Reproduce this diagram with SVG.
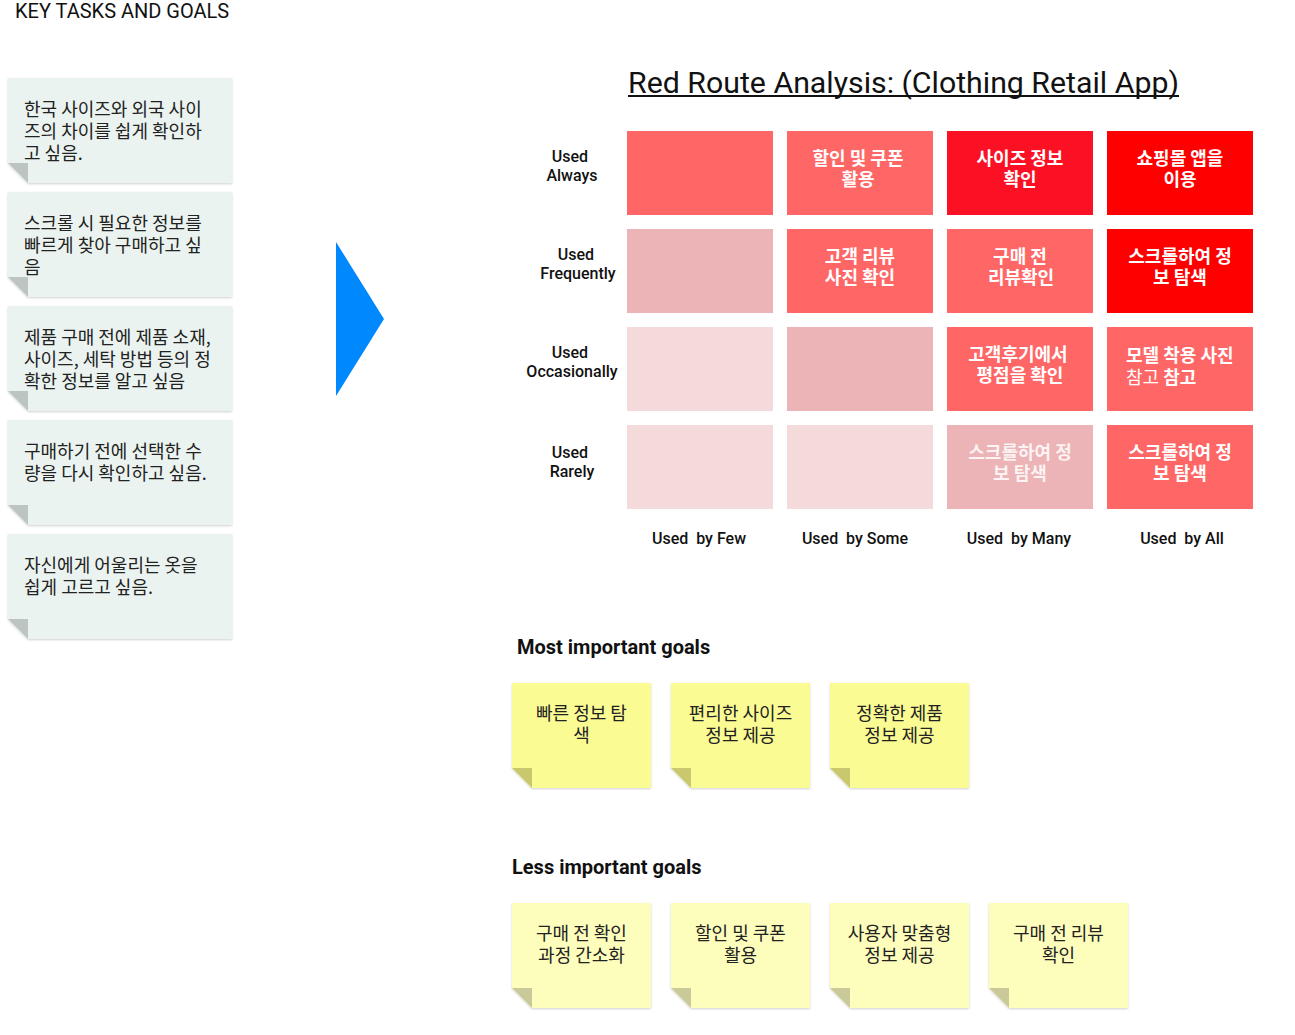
<svg xmlns="http://www.w3.org/2000/svg" width="1295" height="1035" viewBox="0 0 1295 1035">
<defs>
<filter id="sh" x="-10%" y="-10%" width="120%" height="120%">
<feDropShadow dx="0" dy="1" stdDeviation="1.2" flood-color="#000" flood-opacity="0.18"/>
</filter>
</defs>
<style>
.kr{font-family:"Noto Sans CJK KR","Noto Sans",sans-serif;}
.lat{font-family:Roboto,"Liberation Sans",sans-serif;}
.gn{fill:#ebf3f0;filter:url(#sh);}
.gf{fill:#bcc5c2;}
.yn{fill:#fbfb94;filter:url(#sh);}
.yf{fill:#c9c86f;}
.ln{fill:#fdfdbc;filter:url(#sh);}
.lf{fill:#c9c99a;}
.nt{font-size:18px;fill:#222;}
.ct{font-size:18px;font-weight:bold;fill:#fff;text-anchor:middle;}
.rl{font-size:16px;font-weight:500;fill:#111;text-anchor:middle;}
.cl{font-size:16px;font-weight:500;fill:#111;text-anchor:middle;white-space:pre;}
.hd{font-size:20px;font-weight:bold;fill:#111;}
.c1{fill:#ff6666;}.c2{fill:#fc1124;}.c3{fill:#ff0000;}.c4{fill:#ecb4b6;}.c5{fill:#f5dadb;}
</style>
<rect width="1295" height="1035" fill="#fff"/>
<text x="15" y="18" class="lat" font-size="20" fill="#111">KEY TASKS AND GOALS</text>

<g id="task1"><path class="gn" d="M8,78H232V183H28L8,163Z"/><path class="gf" d="M8,163H28V183Z"/>
<text class="kr nt"><tspan x="24" y="116">한국 사이즈와 외국 사이</tspan><tspan x="24" y="138">즈의 차이를 쉽게 확인하</tspan><tspan x="24" y="160">고 싶음.</tspan></text></g>
<g id="task2"><path class="gn" d="M8,192H232V297H28L8,277Z"/><path class="gf" d="M8,277H28V297Z"/>
<text class="kr nt"><tspan x="24" y="230">스크롤 시 필요한 정보를</tspan><tspan x="24" y="252">빠르게 찾아 구매하고 싶</tspan><tspan x="24" y="274">음</tspan></text></g>
<g id="task3"><path class="gn" d="M8,306H232V411H28L8,391Z"/><path class="gf" d="M8,391H28V411Z"/>
<text class="kr nt"><tspan x="24" y="344">제품 구매 전에 제품 소재,</tspan><tspan x="24" y="366">사이즈, 세탁 방법 등의 정</tspan><tspan x="24" y="388">확한 정보를 알고 싶음</tspan></text></g>
<g id="task4"><path class="gn" d="M8,420H232V525H28L8,505Z"/><path class="gf" d="M8,505H28V525Z"/>
<text class="kr nt"><tspan x="24" y="458">구매하기 전에 선택한 수</tspan><tspan x="24" y="480">량을 다시 확인하고 싶음.</tspan></text></g>
<g id="task5"><path class="gn" d="M8,534H232V639H28L8,619Z"/><path class="gf" d="M8,619H28V639Z"/>
<text class="kr nt"><tspan x="24" y="572">자신에게 어울리는 옷을</tspan><tspan x="24" y="594">쉽게 고르고 싶음.</tspan></text></g>

<g id="arrow"><polygon points="336,242 384,319 336,396" fill="#0088ff"/></g>

<g id="title"><text x="628" y="93" class="lat" font-size="30" fill="#111" textLength="551" lengthAdjust="spacingAndGlyphs">Red Route Analysis: (Clothing Retail App)</text>
<rect x="628" y="95" width="551" height="2" fill="#111"/></g>

<g id="rowlabels">
<text class="lat rl"><tspan x="570" y="162">Used</tspan><tspan x="572" y="181">Always</tspan></text>
<text class="lat rl"><tspan x="576" y="260">Used</tspan><tspan x="578" y="279">Frequently</tspan></text>
<text class="lat rl"><tspan x="570" y="358">Used</tspan><tspan x="572" y="377">Occasionally</tspan></text>
<text class="lat rl"><tspan x="570" y="458">Used</tspan><tspan x="572" y="477">Rarely</tspan></text>
</g>

<g id="grid">
<rect id="r1c1" class="c1" x="627" y="131" width="146" height="84"/>
<g id="r1c2"><rect class="c1" x="787" y="131" width="146" height="84"/><text class="kr ct"><tspan x="858" y="165">할인 및 쿠폰</tspan><tspan x="858" y="186">활용</tspan></text></g>
<g id="r1c3"><rect class="c2" x="947" y="131" width="146" height="84"/><text class="kr ct"><tspan x="1020" y="165">사이즈 정보</tspan><tspan x="1020" y="186">확인</tspan></text></g>
<g id="r1c4"><rect class="c3" x="1107" y="131" width="146" height="84"/><text class="kr ct"><tspan x="1180" y="165">쇼핑몰 앱을</tspan><tspan x="1180" y="186">이용</tspan></text></g>

<rect id="r2c1" class="c4" x="627" y="229" width="146" height="84"/>
<g id="r2c2"><rect class="c1" x="787" y="229" width="146" height="84"/><text class="kr ct"><tspan x="860" y="263">고객 리뷰</tspan><tspan x="860" y="284">사진 확인</tspan></text></g>
<g id="r2c3"><rect class="c1" x="947" y="229" width="146" height="84"/><text class="kr ct"><tspan x="1020" y="263">구매 전</tspan><tspan x="1021" y="284">리뷰확인</tspan></text></g>
<g id="r2c4"><rect class="c3" x="1107" y="229" width="146" height="84"/><text class="kr ct"><tspan x="1180" y="263">스크롤하여 정</tspan><tspan x="1180" y="284">보 탐색</tspan></text></g>

<rect id="r3c1" class="c5" x="627" y="327" width="146" height="84"/>
<rect id="r3c2" class="c4" x="787" y="327" width="146" height="84"/>
<g id="r3c3"><rect class="c1" x="947" y="327" width="146" height="84"/><text class="kr ct"><tspan x="1018" y="361">고객후기에서</tspan><tspan x="1020" y="382">평점을 확인</tspan></text></g>
<g id="r3c4"><rect class="c1" x="1107" y="327" width="146" height="84"/><text class="kr" font-size="18" fill="#fff"><tspan x="1126" y="362" font-weight="bold">모델 착용 사진</tspan><tspan x="1126" y="384">참고 </tspan><tspan font-weight="bold">참고</tspan></text></g>

<rect id="r4c1" class="c5" x="627" y="425" width="146" height="84"/>
<rect id="r4c2" class="c5" x="787" y="425" width="146" height="84"/>
<g id="r4c3"><rect class="c4" x="947" y="425" width="146" height="84"/><text class="kr ct" fill-opacity="0.85"><tspan x="1020" y="459">스크롤하여 정</tspan><tspan x="1020" y="480">보 탐색</tspan></text></g>
<g id="r4c4"><rect class="c1" x="1107" y="425" width="146" height="84"/><text class="kr ct"><tspan x="1180" y="459">스크롤하여 정</tspan><tspan x="1180" y="480">보 탐색</tspan></text></g>
</g>

<g id="collabels">
<text class="lat cl" x="699" y="544">Used  by Few</text>
<text class="lat cl" x="855" y="544">Used  by Some</text>
<text class="lat cl" x="1019" y="544">Used  by Many</text>
<text class="lat cl" x="1182" y="544">Used  by All</text>
</g>

<text class="lat hd" x="517" y="654">Most important goals</text>
<g id="m1"><path class="yn" d="M512,683H651V788H532L512,768Z"/><path class="yf" d="M512,768H532V788Z"/>
<text class="kr nt" text-anchor="middle"><tspan x="581.5" y="720">빠른 정보 탐</tspan><tspan x="581.5" y="742">색</tspan></text></g>
<g id="m2"><path class="yn" d="M671,683H810V788H691L671,768Z"/><path class="yf" d="M671,768H691V788Z"/>
<text class="kr nt" text-anchor="middle"><tspan x="740.5" y="720">편리한 사이즈</tspan><tspan x="740.5" y="742">정보 제공</tspan></text></g>
<g id="m3"><path class="yn" d="M830,683H969V788H850L830,768Z"/><path class="yf" d="M830,768H850V788Z"/>
<text class="kr nt" text-anchor="middle"><tspan x="899.5" y="720">정확한 제품</tspan><tspan x="899.5" y="742">정보 제공</tspan></text></g>

<text class="lat hd" x="512" y="874">Less important goals</text>
<g id="l1"><path class="ln" d="M512,903H651V1008H532L512,988Z"/><path class="lf" d="M512,988H532V1008Z"/>
<text class="kr nt" text-anchor="middle"><tspan x="581.5" y="940">구매 전 확인</tspan><tspan x="581.5" y="962">과정 간소화</tspan></text></g>
<g id="l2"><path class="ln" d="M671,903H810V1008H691L671,988Z"/><path class="lf" d="M671,988H691V1008Z"/>
<text class="kr nt" text-anchor="middle"><tspan x="740.5" y="940">할인 및 쿠폰</tspan><tspan x="740.5" y="962">활용</tspan></text></g>
<g id="l3"><path class="ln" d="M830,903H969V1008H850L830,988Z"/><path class="lf" d="M830,988H850V1008Z"/>
<text class="kr nt" text-anchor="middle"><tspan x="899.5" y="940">사용자 맞춤형</tspan><tspan x="899.5" y="962">정보 제공</tspan></text></g>
<g id="l4"><path class="ln" d="M989,903H1128V1008H1009L989,988Z"/><path class="lf" d="M989,988H1009V1008Z"/>
<text class="kr nt" text-anchor="middle"><tspan x="1058.5" y="940">구매 전 리뷰</tspan><tspan x="1058.5" y="962">확인</tspan></text></g>
<g id="connectors"/>
</svg>
